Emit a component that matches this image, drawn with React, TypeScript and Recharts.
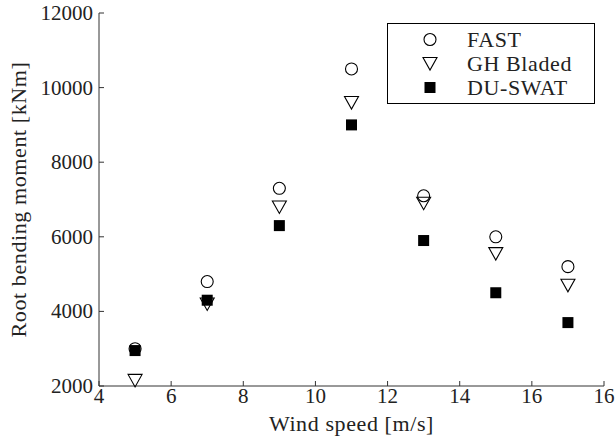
import React from 'react';
import { ScatterChart, Scatter, XAxis, YAxis, Legend } from 'recharts';

const windSpeeds = [5, 7, 9, 11, 13, 15, 17];
const fastMoments = [3000, 4800, 7300, 10500, 7100, 6000, 5200];
const bladedMoments = [2150, 4200, 6800, 9600, 6900, 5550, 4700];
const duSwatMoments = [2950, 4300, 6300, 9000, 5900, 4500, 3700];

const xTicks = [4, 6, 8, 10, 12, 14, 16, 18];
// the original figure labels its last tick "16" as well
const xTickLabels = ['4', '6', '8', '10', '12', '14', '16', '16'];
const yTicks = [2000, 4000, 6000, 8000, 10000, 12000];

const seriesNames = ['FAST', 'GH Bladed', 'DU-SWAT'];

const FONT = '"Liberation Serif", "Times New Roman", serif';
const AXIS = '#333';
const TEXT = '#222';
// CM-style text runs a bit wider than Times
const LABEL_SIZE = 22;
const LABEL_SPACING = 0.6;

const toPoints = (values: number[]) => windSpeeds.map((x, i) => ({ x, y: values[i] }));

const circleShape = ({ cx, cy }: any) => (
    <circle cx={cx} cy={cy} r={6} fill="none" stroke="#000" strokeWidth={1.1} />
);

const triangleShape = ({ cx, cy }: any) => (
    <path d={`M${cx - 7},${cy - 6} L${cx + 7},${cy - 6} L${cx},${cy + 6.5} Z`} fill="none" stroke="#000" strokeWidth={1.1} />
);

const squareShape = ({ cx, cy }: any) => <rect x={cx - 5.5} y={cy - 5.5} width={11} height={11} fill="#000" />;

const shapes = [circleShape, triangleShape, squareShape];

const XTick = ({ x, y, index }: any) => (
    <g>
        <line x1={x} x2={x} y1={y} y2={y - 5} stroke={AXIS} strokeWidth={1} />
        <text x={x} y={y + 17} textAnchor="middle" fill={TEXT} fontSize={21} fontFamily={FONT}>
            {xTickLabels[index]}
        </text>
    </g>
);

const YTick = ({ x, y, payload }: any) => (
    <g>
        <line x1={x} x2={x + 5} y1={y} y2={y} stroke={AXIS} strokeWidth={1} />
        <text x={x - 6} y={y + 7} textAnchor="end" fill={TEXT} fontSize={21} fontFamily={FONT}>
            {payload.value}
        </text>
    </g>
);

const renderLegend = () => (
    <svg width={208} height={81} style={{ display: 'block' }}>
        <rect x={0.5} y={0.5} width={207} height={80} fill="#fff" stroke="#000" strokeWidth={1} />
        {seriesNames.map((name, i) => {
            const cy = 16.5 + i * 24;
            return (
                <g key={name}>
                    {shapes[i]({ cx: 43, cy })}
                    <text x={80} y={cy + 7} fill={TEXT} fontSize={LABEL_SIZE} letterSpacing={LABEL_SPACING} fontFamily={FONT}>
                        {name}
                    </text>
                </g>
            );
        })}
    </svg>
);

const App = () => (
    <div style={{ position: 'absolute', left: 0, top: 0, width: 616, height: 442, background: '#fff' }}>
        <ScatterChart width={616} height={442} margin={{ top: 13, right: 12, left: 0, bottom: 0 }}>
            <XAxis
                type="number"
                dataKey="x"
                domain={[4, 18]}
                ticks={xTicks}
                interval={0}
                height={56}
                tickSize={0}
                tickMargin={0}
                tickLine={false}
                axisLine={{ stroke: AXIS, strokeWidth: 1 }}
                tick={<XTick />}
                label={{
                    content: ({ viewBox }: any) => (
                        <text x={viewBox.x + viewBox.width / 2} y={431} textAnchor="middle" fill={TEXT} fontSize={LABEL_SIZE} letterSpacing={LABEL_SPACING} fontFamily={FONT}>
                            Wind speed [m/s]
                        </text>
                    ),
                }}
            />
            <YAxis
                type="number"
                dataKey="y"
                domain={[2000, 12000]}
                ticks={yTicks}
                interval={0}
                width={99}
                tickSize={0}
                tickMargin={0}
                tickLine={false}
                axisLine={{ stroke: AXIS, strokeWidth: 1 }}
                tick={<YTick />}
                label={{
                    content: ({ viewBox }: any) => {
                        const cy = viewBox.y + viewBox.height / 2;
                        return (
                            <text x={18} y={cy} transform={`rotate(-90, 18, ${cy})`} textAnchor="middle" dominantBaseline="central" fill={TEXT} fontSize={LABEL_SIZE} letterSpacing={LABEL_SPACING} fontFamily={FONT}>
                                Root bending moment [kNm]
                            </text>
                        );
                    },
                }}
            />
            <Legend
                layout="vertical"
                align="center"
                verticalAlign="middle"
                content={renderLegend}
                wrapperStyle={{ left: 387, top: 23, width: 208, height: 81 }}
            />
            <Scatter name={seriesNames[0]} data={toPoints(fastMoments)} shape={circleShape} isAnimationActive={false} />
            <Scatter name={seriesNames[1]} data={toPoints(bladedMoments)} shape={triangleShape} isAnimationActive={false} />
            <Scatter name={seriesNames[2]} data={toPoints(duSwatMoments)} shape={squareShape} isAnimationActive={false} />
        </ScatterChart>
    </div>
);

export default App;
